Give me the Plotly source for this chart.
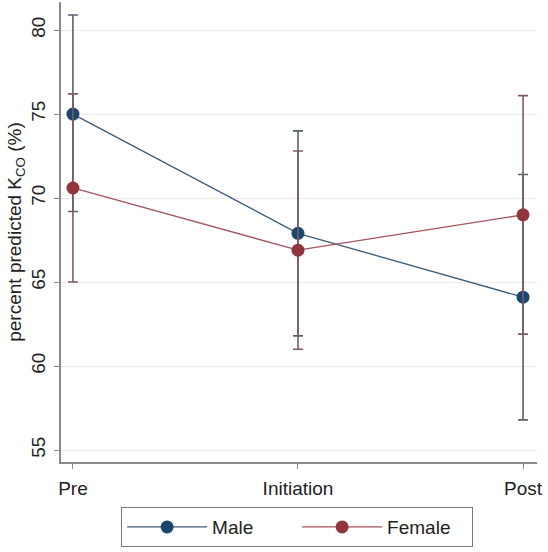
import plotly.graph_objects as go

# Time points and group estimates with 95% CI bounds
timepoints = ["Pre", "Initiation", "Post"]
male_mean = [75.0, 67.9, 64.1]
male_upper = [80.9, 74.0, 71.4]
male_lower = [69.2, 61.8, 56.8]
female_mean = [70.6, 66.9, 69.0]
female_upper = [76.2, 72.8, 76.1]
female_lower = [65.0, 61.0, 61.9]

y_ticks = [55, 60, 65, 70, 75, 80]

male_color = "#1a476f"
female_color = "#90353b"

x_pos = list(range(len(timepoints)))


def ci_trace(mean, upper, lower, color, name, marker_color, line_color):
    return go.Scatter(
        x=x_pos,
        y=mean,
        mode="lines+markers",
        name=name,
        line=dict(color=line_color, width=1.3),
        marker=dict(color=marker_color, size=13),
        error_y=dict(
            type="data",
            symmetric=False,
            array=[u - m for u, m in zip(upper, mean)],
            arrayminus=[m - l for m, l in zip(mean, lower)],
            color=color,
            thickness=1.6,
            width=5,
        ),
    )


fig = go.Figure()
fig.add_trace(ci_trace(male_mean, male_upper, male_lower, "#56616d", "Male",
                       male_color, "#3b5a78"))
fig.add_trace(ci_trace(female_mean, female_upper, female_lower, "#7d5a62", "Female",
                       female_color, "#a4545c"))

FONT = "Liberation Sans, Arial, sans-serif"
axis_font = dict(family=FONT, size=19, color="#222222")

fig.update_layout(
    width=548,
    height=552,
    margin=dict(l=61, r=11, t=2, b=90),
    paper_bgcolor="white",
    plot_bgcolor="white",
    font=axis_font,
    showlegend=True,
    legend=dict(
        orientation="h",
        x=0.496,
        xanchor="center",
        y=-0.098,
        yanchor="top",
        bordercolor="#777777",
        borderwidth=1,
        font=dict(family=FONT, size=19, color="#222222"),
        itemwidth=80,
        entrywidth=80,
    ),
    xaxis=dict(
        range=[-0.053, 2.062],
        tickmode="array",
        tickvals=x_pos,
        ticktext=timepoints,
        showgrid=False,
        zeroline=False,
        showline=True,
        linecolor="#8a8a8a",
        linewidth=1.5,
        ticks="outside",
        ticklen=5,
        tickcolor="#8a8a8a",
        tickfont=axis_font,
        ticklabelstandoff=3,
    ),
    yaxis=dict(
        range=[54.29, 81.67],
        tickmode="array",
        tickvals=y_ticks,
        tickangle=-90,
        showgrid=True,
        gridcolor="#ececec",
        gridwidth=1,
        zeroline=False,
        showline=True,
        linecolor="#8a8a8a",
        linewidth=1.5,
        ticks="outside",
        ticklen=5,
        tickcolor="#8a8a8a",
        tickfont=axis_font,
        ticklabelstandoff=2,
        title=dict(
            text="percent predicted K<sub>CO</sub> (%)",
            font=dict(family=FONT, size=19, color="#222222"),
            standoff=0,
        ),
    ),
)

fig.write_html("out.html")
